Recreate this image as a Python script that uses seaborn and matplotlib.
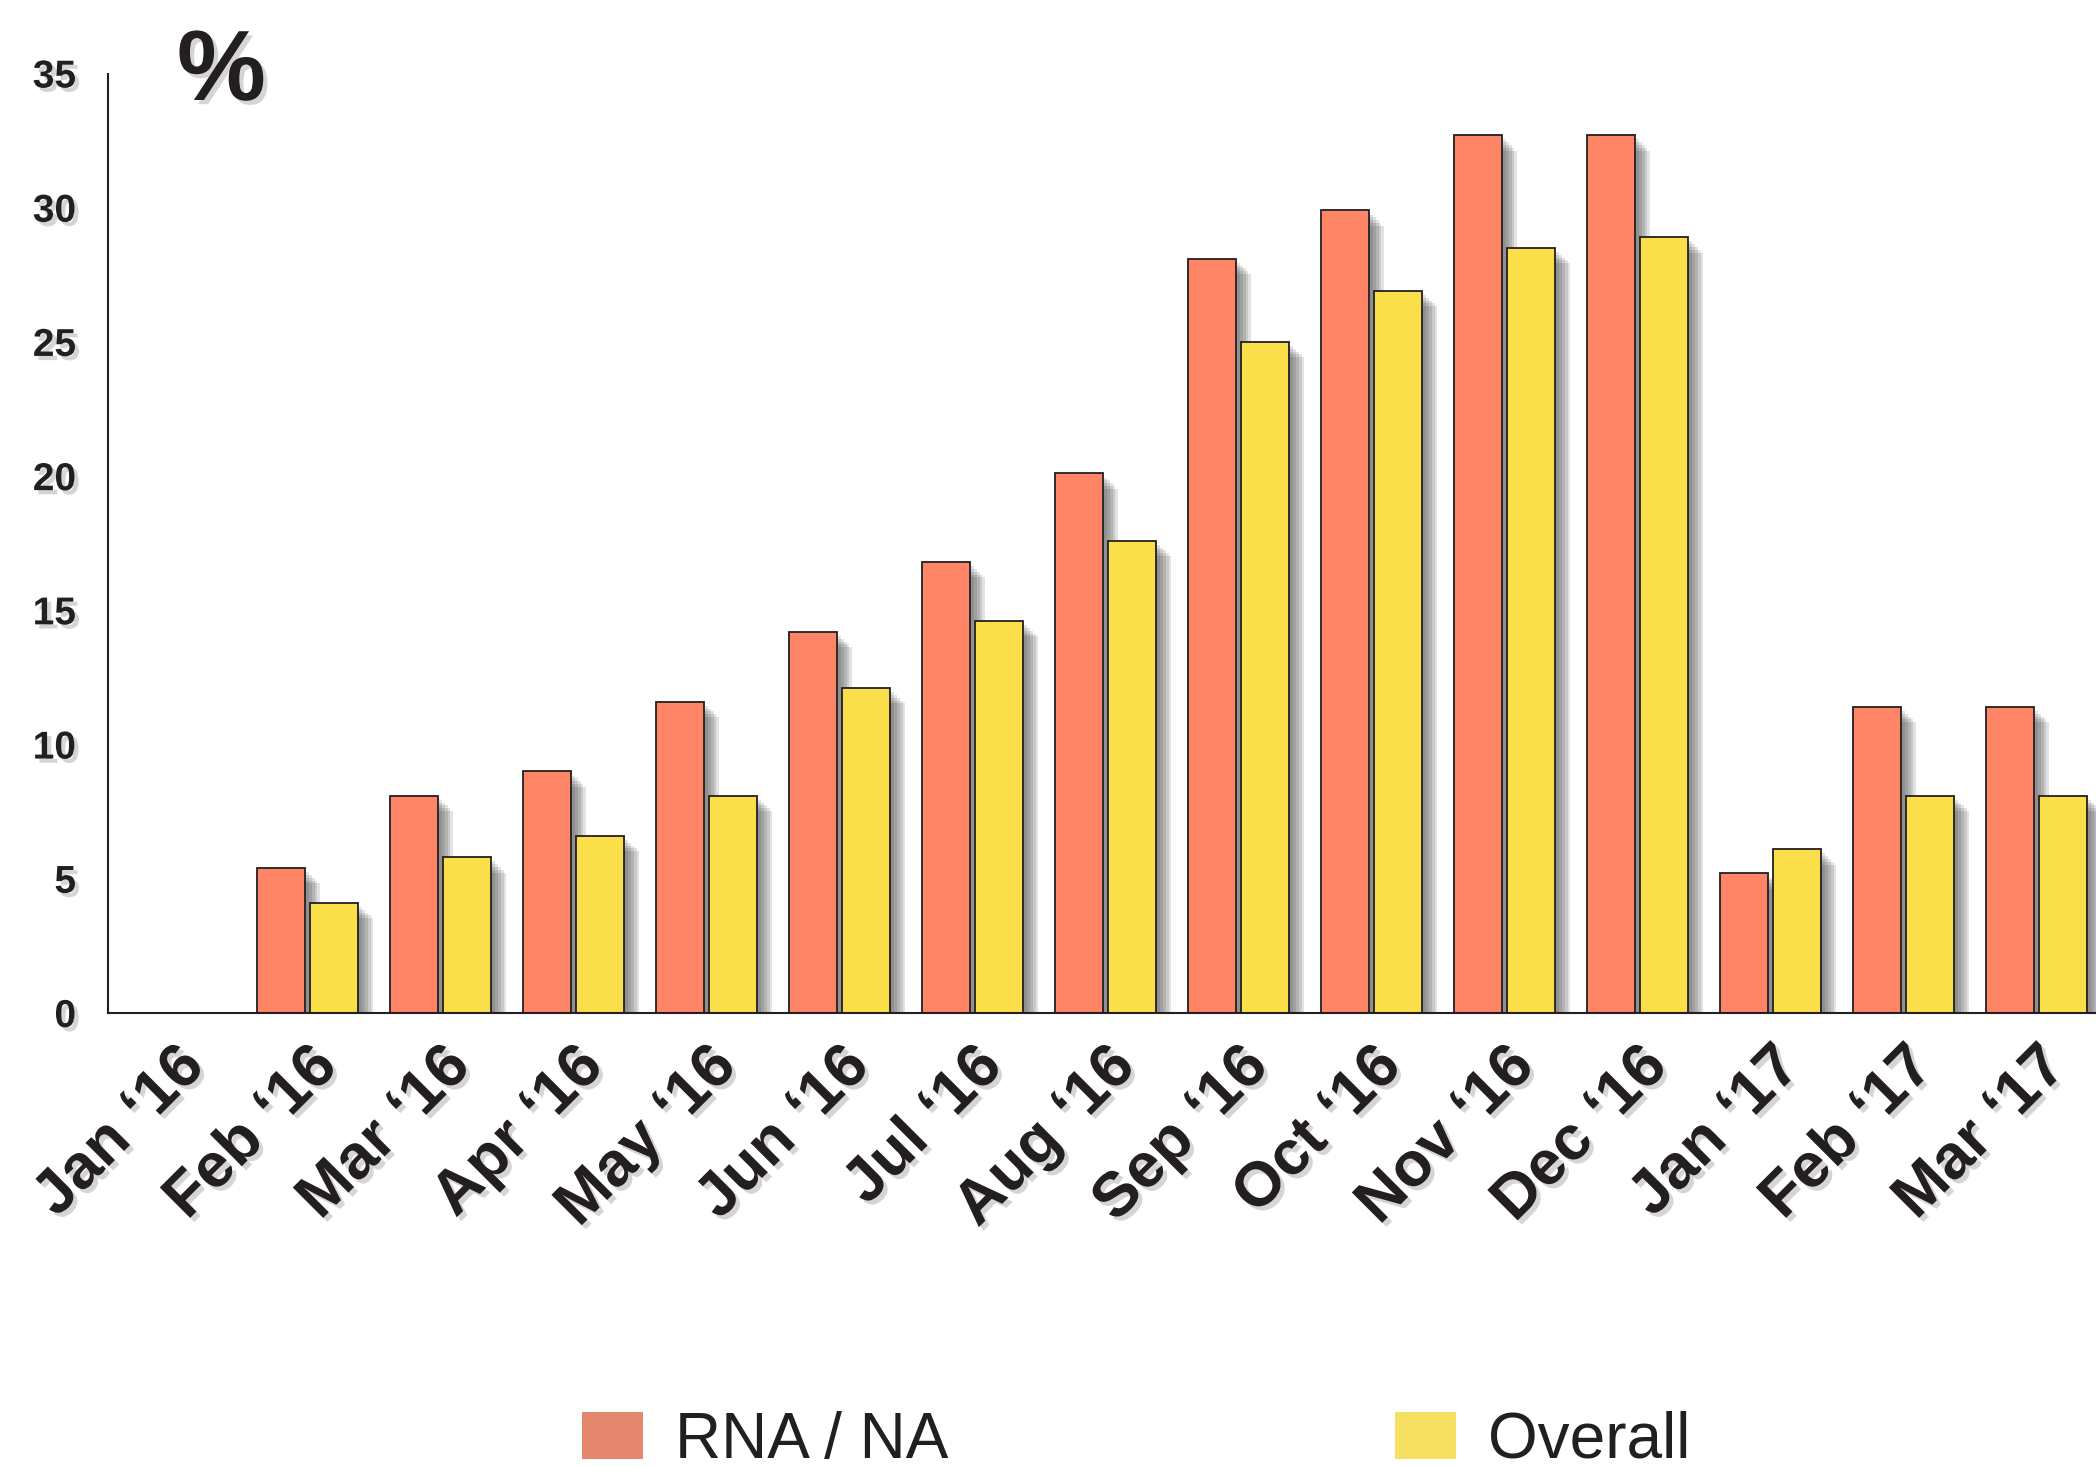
import numpy as np
import pandas as pd
import matplotlib
matplotlib.use('Agg')
import matplotlib.pyplot as plt
import matplotlib.patheffects as pe
from matplotlib.patches import Patch
from matplotlib.transforms import ScaledTranslation
import seaborn as sns

months = ['Jan \u201816', 'Feb \u201816', 'Mar \u201816', 'Apr \u201816', 'May \u201816',
          'Jun \u201816', 'Jul \u201816', 'Aug \u201816', 'Sep \u201816', 'Oct \u201816',
          'Nov \u201816', 'Dec \u201816', 'Jan \u201817', 'Feb \u201817', 'Mar \u201817']
rna_na = [np.nan, 5.4, 8.1, 9.0, 11.6, 14.2, 16.8, 20.1, 28.1, 29.9, 32.7, 32.7, 5.2, 11.4, 11.4]
overall = [np.nan, 4.1, 5.8, 6.6, 8.1, 12.1, 14.6, 17.6, 25.0, 26.9, 28.5, 28.9, 6.1, 8.1, 8.1]
series = ['RNA / NA', 'Overall']
bar_colors = ['#FF8566', '#FADF4B']
legend_colors = ['#E5876F', '#F5E062']
ink = '#231F20'

df = pd.DataFrame({
    'month': months * 2,
    'value': rna_na + overall,
    'series': [series[0]] * len(months) + [series[1]] * len(months),
})

sns.set_style('white')
plt.rcParams['font.family'] = ['Liberation Sans', 'DejaVu Sans']

fig = plt.figure(figsize=(20.96, 14.67), dpi=100)
ax = fig.add_axes([108 / 2096, 454 / 1467, 1995 / 2096, 939.5 / 1467])

sns.barplot(data=df, x='month', y='value', hue='series', order=months, hue_order=series,
            palette=bar_colors, saturation=1, width=0.8, gap=0.1, errorbar=None,
            edgecolor=ink, linewidth=1.3, legend=False, ax=ax)

# soft drop shadow: a few stacked translucent copies
shadow = [pe.SimplePatchShadow(offset=(o, -o), shadow_rgbFace='#333333', alpha=0.14)
          for o in (3, 5, 7, 9, 11)] + [pe.Normal()]
for p in ax.patches:
    p.set_path_effects(shadow)

ax.set_xlim(-0.5, len(months) - 0.5)
ax.set_ylim(0, 35)
ax.set_xlabel('')
ax.set_ylabel('')

for s in ['top', 'right']:
    ax.spines[s].set_visible(False)
for s in ['left', 'bottom']:
    ax.spines[s].set_color(ink)
    ax.spines[s].set_linewidth(1.5)

txt_shadow = [pe.withSimplePatchShadow(offset=(3, -3), shadow_rgbFace='#777777', alpha=0.3)]

ax.set_yticks(range(0, 36, 5))
ax.tick_params(axis='y', direction='in', length=36, width=1.3, color=ink, pad=23,
               labelsize=28, labelcolor=ink)
for lab in ax.get_yticklabels():
    lab.set_fontweight('bold')
    lab.set_path_effects(txt_shadow)

ax.set_xticks(range(len(months)))
ax.set_xticks(np.arange(0.5, len(months), 1.0), minor=True)
ax.tick_params(axis='x', which='major', length=0, pad=40, labelsize=45, labelcolor=ink)
ax.tick_params(axis='x', which='minor', direction='in', length=17, width=1.5, color=ink)
offset = ScaledTranslation(32 / 100, 0, fig.dpi_scale_trans)
for lab in ax.get_xticklabels():
    lab.set_rotation(45)
    lab.set_ha('right')
    lab.set_va('baseline')
    lab.set_rotation_mode('anchor')
    lab.set_fontweight('bold')
    lab.set_transform(lab.get_transform() + offset)
    lab.set_path_effects(txt_shadow)

fig.text(177 / 2096, 1 - 100 / 1467, '%', fontsize=72, fontweight='bold', color=ink,
         ha='left', va='baseline', path_effects=txt_shadow)

handles = [Patch(facecolor=c, edgecolor='none') for c in legend_colors]
fig.legend(handles, series, loc='center', bbox_to_anchor=(1136 / 2096, 26 / 1467),
           ncol=2, frameon=False, fontsize=46, handlelength=0.95, handleheight=0.75,
           handletextpad=0.5, columnspacing=7.0, labelcolor=ink, borderpad=0)

fig.savefig('out.png', dpi=100)
